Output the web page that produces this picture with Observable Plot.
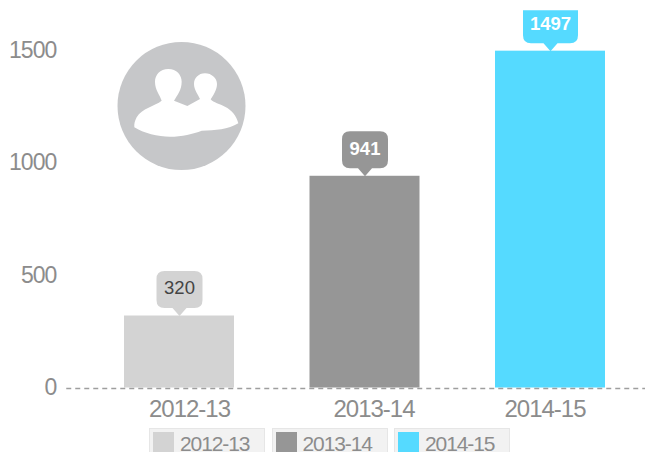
<!DOCTYPE html>
<html>
<head>
<meta charset="utf-8">
<script src="https://cdn.jsdelivr.net/npm/d3@7"></script>
<script src="https://cdn.jsdelivr.net/npm/@observablehq/plot@0.6"></script>
<style>
html,body{margin:0;padding:0;background:#fff;overflow:hidden;width:645px;height:452px}
#chart svg{display:block}
#chart [aria-label="y-axis tick label"]{letter-spacing:-1px}
#chart [aria-label="x-axis tick label"]{letter-spacing:-1px}
#legend{position:relative;height:24px;overflow:hidden;font:21px "Liberation Sans",Arial,sans-serif;letter-spacing:-1.1px;color:#8c8c8c}
#legend .item{position:absolute;top:0;width:116px;height:24px;box-sizing:border-box;background:#f2f2f2;border:1px solid #e6e6e6;border-bottom:none}
#legend .sw{position:absolute;left:3px;top:3px;width:21px;height:20px}
#legend .tx{position:absolute;left:30px;top:7px;height:16px;line-height:16px}
</style>
</head>
<body>
<div id="chart"></div>
<div id="legend"></div>
<script>
const years = ["2012-13", "2013-14", "2014-15"];
const values = [320, 941, 1497];
const colors = ["#d3d3d3", "#969696", "#55daff"];
const labelColors = ["#444444", "#ffffff", "#ffffff"];
const labelWeights = ["normal", "bold", "bold"];
const yTicks = [0, 500, 1000, 1500];
const xLabelShift = [10, 9, -5.5];
const bubbleWidths = [46, 46, 55];
const bubbleHeights = [37, 37, 33];
const bubbleRadii = [[8, 8], [8, 8], [0, 8]];

const rows = years.map((year, i) => ({year, value: values[i]}));

// Speech-bubble symbol: the pointer's tip sits on the origin.
const bubble = (w, h, rTop, rBot) => ({
  draw(ctx) {
    const tip = 8, half = 7, x = w / 2, b = -tip, t = -tip - h;
    ctx.moveTo(0, 0);
    ctx.lineTo(half, b);
    ctx.lineTo(x - rBot, b);
    ctx.quadraticCurveTo(x, b, x, b - rBot);
    ctx.lineTo(x, t + rTop);
    if (rTop) ctx.quadraticCurveTo(x, t, x - rTop, t);
    ctx.lineTo(-x + rTop, t);
    if (rTop) ctx.quadraticCurveTo(-x, t, -x, t + rTop);
    ctx.lineTo(-x, b - rBot);
    ctx.quadraticCurveTo(-x, b, -x + rBot, b);
    ctx.lineTo(-half, b);
    ctx.closePath();
  }
});

// Decorative people badge.
const badge = () => {
  const g = d3.create("svg:g");
  g.append("circle").attr("cx", 181.5).attr("cy", 106).attr("r", 64).attr("fill", "#c6c7c9");
  g.append("path")
    .attr("transform", "translate(100,30) scale(0.33333)")
    .attr("fill", "#fff")
    .attr("d", "M205 117C180 117 165 135 165 155C165 180 180 195 185 212C165 228 125 235 110 262C105 272 102 280 103 292C130 310 175 320 210 320C245 320 280 312 305 302C345 302 385 298 415 280C410 258 395 240 375 230C360 222 340 218 332 208C340 195 351 180 351 162C351 145 335 130 315 130C295 130 282 145 282 162C282 180 295 195 300 207L262 228L222 212C232 195 245 180 245 155C245 135 230 117 205 117Z");
  return g.node();
};

const plot = Plot.plot({
  width: 645,
  height: 428,
  marginLeft: 86.25,
  marginRight: 2.25,
  marginTop: 50,
  marginBottom: 40.5,
  style: {fontFamily: '"Liberation Sans", Arial, sans-serif', background: "transparent", overflow: "hidden"},
  x: {domain: years, paddingInner: 0.407, paddingOuter: 0.2035, align: 0.5, round: false, label: null},
  y: {domain: [0, 1500], label: null},
  color: {domain: years, range: colors},
  marks: [
    Plot.barY(rows, {x: "year", y: "value", fill: "year"}),
    Plot.ruleY([0], {stroke: "#9e9e9e", strokeWidth: 1.5, strokeDasharray: "5,4", insetLeft: -20, insetRight: -2.25, dy: 0.5}),
    Plot.axisY({ticks: yTicks, tickSize: 0, tickPadding: 30.5, fontSize: 23, color: "#8c8c8c", label: null, tickFormat: d => String(d)}),
    ...years.map((year, i) => Plot.axisX({ticks: [year], tickSize: 0, tickPadding: 12, fontSize: 24, color: "#8c8c8c", label: null, dx: xLabelShift[i]})),
    ...rows.map((row, i) => Plot.dot([row], {
      x: "year", y: "value", fill: "year",
      symbol: bubble(bubbleWidths[i], bubbleHeights[i], bubbleRadii[i][0], bubbleRadii[i][1])
    })),
    ...rows.map((row, i) => Plot.text([row], {
      x: "year", y: "value", text: d => String(d.value), dy: -27.5,
      fill: labelColors[i], fontWeight: labelWeights[i], fontSize: 18.5, lineAnchor: "middle"
    })),
    badge
  ]
});
document.getElementById("chart").append(plot);

const lefts = [149, 271.5, 394];
const legend = d3.select("#legend");
years.forEach((year, i) => {
  const item = legend.append("div").attr("class", "item").style("left", lefts[i] + "px");
  item.append("div").attr("class", "sw").style("background", colors[i]);
  item.append("div").attr("class", "tx").text(year);
});
</script>
</body>
</html>
